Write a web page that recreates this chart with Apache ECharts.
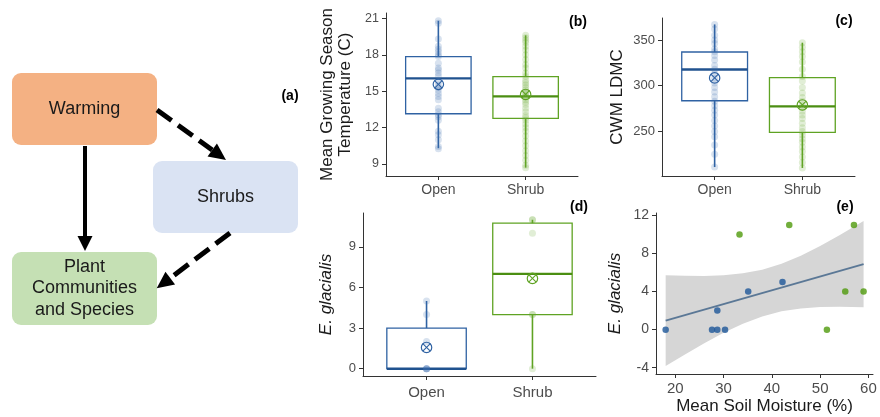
<!DOCTYPE html>
<html>
<head>
<meta charset="utf-8">
<script src="https://cdn.jsdelivr.net/npm/echarts@6/dist/echarts.min.js"></script>
<style>
html,body{margin:0;padding:0;background:#fff;}
#chart{width:880px;height:417px;}
</style>
</head>
<body>
<div id="chart"></div>
<script>
// ---------- DATA ----------
const catNames = ['Open', 'Shrub'];

// (b) Mean growing season temperature
const tempTicks = [9, 12, 15, 18, 21];
const tempOpenPts = [20.8, 20.6, 19.3, 18.7, 18.45, 18.25, 18.0, 17.85, 17.3, 16.9, 16.75, 16.5, 16.25, 15.8, 15.5, 15.3, 15.1, 14.8, 14.55, 14.3, 13.6, 13.3, 13.05, 12.9, 12.6, 11.7, 11.4, 11.0, 10.45, 10.25];
const tempShrubPts = [19.6, 19.4, 19.2, 19.0, 18.7, 18.4, 18.0, 17.6, 17.2, 16.9, 16.5, 16.2, 15.9, 15.7, 15.5, 15.3, 15.1, 14.9, 14.8, 14.6, 14.5, 14.3, 14.1, 13.9, 13.6, 13.3, 13.0, 12.8, 12.6, 12.3, 12.0, 11.7, 11.3, 10.9, 10.5, 10.1, 9.7, 9.3, 8.9, 8.7];
const tempOpenBox = [10.3, 13.14, 16.05, 17.84, 20.8];   // min, q1, median, q3, max
const tempShrubBox = [8.7, 12.75, 14.57, 16.2, 19.6];
const tempMeans = [15.56, 14.73];

// (c) CWM LDMC
const ldmcTicks = [250, 300, 350];
const ldmcOpenPts = [367, 362, 355, 350, 346, 340, 337, 333, 328, 322, 318, 313, 308, 303, 298, 293, 288, 283, 278, 273, 268, 262, 256, 250, 244, 235, 225, 211];
const ldmcShrubPts = [347, 342, 337, 332, 326, 318, 310, 305, 298, 292, 287, 283, 279, 276, 272, 268, 264, 259, 254, 250, 246, 242, 238, 233, 228, 222, 216, 210];
const ldmcOpenBox = [211, 283.5, 317.6, 336.8, 367];
const ldmcShrubBox = [210, 249, 277.3, 308.8, 347];
const ldmcMeans = [308.5, 278.9];

// (d) E. glacialis by habitat
const egTicks = [0, 3, 6, 9];
const egOpenPts = [0, 0, 0, 0, 2, 4, 5];
const egShrubPts = [0, 4, 4, 10, 11, 11];
const egOpenBox = [0, 0, 0, 3, 5];
const egShrubBox = [0, 4, 7, 10.75, 11];
const egMeans = [1.57, 6.67];

// (e) E. glacialis vs soil moisture
const moistTicks = [20, 30, 40, 50, 60];
const egTicksE = [-4, 0, 4, 8, 12];
const openMoist = [18.0, 27.6, 28.7, 30.3, 28.7, 35.1, 42.2];
const openEg = [0, 0, 0, 0, 2, 4, 5];
const shrubMoist = [33.3, 43.6, 57.0, 55.2, 59.0, 51.4];
const shrubEg = [10, 11, 11, 4, 4, 0];
const fitX = [18.0, 59.0];
const fitY = [0.95, 6.88];
const ribbonX = [18, 22, 26, 30, 34, 38, 42, 46, 50, 54, 59];
const ribbonLo = [-3.82, -2.60, -1.42, -0.33, 0.63, 1.39, 1.92, 2.23, 2.38, 2.41, 2.35];
const ribbonHi = [5.72, 5.66, 5.64, 5.71, 5.91, 6.29, 6.92, 7.77, 8.78, 9.91, 11.41];

// ---------- STYLE ----------
const BLUE = '#2f62a3', BLUE_MED = '#20528f', BLUE_PT = '#3a6db0';
const GREEN = '#5fa323', GREEN_MED = '#4b8e12', GREEN_PT = '#6aab30';
const AXIS = '#333333', TICKTXT = '#4d4d4d';
const FONT = 'Liberation Sans, Arial, sans-serif';

function catAxis(gi, fs, margin) {
  return {
    type: 'value', gridIndex: gi, min: 0.4, max: 2.6,
    axisLine: { show: true, onZero: false, lineStyle: { color: AXIS, width: 1 } },
    axisTick: { show: true, customValues: [1, 2], length: 4, lineStyle: { color: AXIS } },
    axisLabel: { customValues: [1, 2], formatter: v => catNames[Math.round(v) - 1], fontSize: fs, color: TICKTXT, fontFamily: FONT, margin: margin },
    splitLine: { show: false }
  };
}
function valAxis(gi, min, max, ticks, fs, name, gap, italic) {
  return {
    type: 'value', gridIndex: gi, min: min, max: max,
    axisLine: { show: true, onZero: false, lineStyle: { color: AXIS, width: 1 } },
    axisTick: { show: true, customValues: ticks, length: 4, lineStyle: { color: AXIS } },
    axisLabel: { customValues: ticks, fontSize: fs, color: TICKTXT, fontFamily: FONT, margin: 7 },
    splitLine: { show: false },
    name: name, nameLocation: 'middle', nameGap: gap,
    nameTextStyle: { fontSize: 17, color: '#1a1a1a', fontFamily: FONT, fontStyle: italic ? 'italic' : 'normal', lineHeight: 18 }
  };
}

function boxSeries(gi, openBox, shrubBox, hwUnits) {
  return {
    type: 'custom', xAxisIndex: gi, yAxisIndex: gi, z: 2,
    data: [[1].concat(openBox), [2].concat(shrubBox)],
    renderItem: function (params, api) {
      const x = api.value(0);
      const col = x === 1 ? BLUE : GREEN, med = x === 1 ? BLUE_MED : GREEN_MED;
      const lo = api.coord([x, api.value(1)]), q1 = api.coord([x, api.value(2)]);
      const md = api.coord([x, api.value(3)]), q3 = api.coord([x, api.value(4)]);
      const hi = api.coord([x, api.value(5)]);
      const hw = api.size([hwUnits, 0])[0] / 2;
      return {
        type: 'group', children: [
          { type: 'line', shape: { x1: lo[0], y1: lo[1], x2: q1[0], y2: q1[1] }, style: { stroke: col, lineWidth: 1.6 } },
          { type: 'line', shape: { x1: q3[0], y1: q3[1], x2: hi[0], y2: hi[1] }, style: { stroke: col, lineWidth: 1.6 } },
          { type: 'rect', shape: { x: q1[0] - hw, y: q3[1], width: 2 * hw, height: q1[1] - q3[1] }, style: { fill: 'none', stroke: col, lineWidth: 1.3 } },
          { type: 'line', shape: { x1: md[0] - hw, y1: md[1], x2: md[0] + hw, y2: md[1] }, style: { stroke: med, lineWidth: 2.4 } }
        ]
      };
    }
  };
}
function ptSeries(gi, pts, x, color, op) {
  return {
    type: 'scatter', xAxisIndex: gi, yAxisIndex: gi, z: 3,
    data: pts.map(v => [x, v]), symbol: 'circle', symbolSize: 7,
    itemStyle: { color: color, opacity: op }, silent: true
  };
}
function meanSeries(gi, means) {
  return {
    type: 'custom', xAxisIndex: gi, yAxisIndex: gi, z: 4,
    data: means.map((m, i) => [i + 1, m]),
    renderItem: function (params, api) {
      const x = api.value(0);
      const col = x === 1 ? BLUE : GREEN;
      const c = api.coord([x, api.value(1)]);
      const r = 5.2, d = r * 0.72;
      return {
        type: 'group', children: [
          { type: 'circle', shape: { cx: c[0], cy: c[1], r: r }, style: { fill: 'none', stroke: col, lineWidth: 1.2 } },
          { type: 'line', shape: { x1: c[0] - d, y1: c[1] - d, x2: c[0] + d, y2: c[1] + d }, style: { stroke: col, lineWidth: 1.1 } },
          { type: 'line', shape: { x1: c[0] - d, y1: c[1] + d, x2: c[0] + d, y2: c[1] - d }, style: { stroke: col, lineWidth: 1.1 } }
        ]
      };
    }
  };
}

// ---------- DIAGRAM (a) ----------
function arrowHead(x0, y0, x1, y1, len, hw) {
  const dx = x1 - x0, dy = y1 - y0, L = Math.hypot(dx, dy);
  const ux = dx / L, uy = dy / L, px = -uy, py = ux;
  const bx = x1 - ux * len, by = y1 - uy * len;
  return { base: [bx, by], pts: [[x1, y1], [bx + px * hw, by + py * hw], [bx - px * hw, by - py * hw]] };
}
const a1 = arrowHead(85, 146, 85, 251, 15, 7.5);
const a2 = arrowHead(157, 110, 226, 160, 17, 8);
const a3 = arrowHead(230, 233, 156.7, 288.3, 17, 8);

const graphics = [
  { type: 'rect', shape: { x: 12, y: 73, width: 145, height: 72, r: 9 }, style: { fill: '#F4B183' } },
  { type: 'rect', shape: { x: 153, y: 161, width: 145, height: 72, r: 9 }, style: { fill: '#DAE3F3' } },
  { type: 'rect', shape: { x: 12, y: 252, width: 145, height: 73, r: 9 }, style: { fill: '#C5E0B4' } },
  { type: 'text', x: 84.5, y: 109, style: { text: 'Warming', fontSize: 18, fontFamily: FONT, fill: '#1a1a1a', textAlign: 'center', textVerticalAlign: 'middle' } },
  { type: 'text', x: 225.5, y: 197, style: { text: 'Shrubs', fontSize: 18, fontFamily: FONT, fill: '#1a1a1a', textAlign: 'center', textVerticalAlign: 'middle' } },
  { type: 'text', x: 84.5, y: 288.5, style: { text: 'Plant\nCommunities\nand Species', fontSize: 18, lineHeight: 21.7, fontFamily: FONT, fill: '#1a1a1a', textAlign: 'center', textVerticalAlign: 'middle' } },
  { type: 'line', shape: { x1: 85, y1: 146, x2: a1.base[0], y2: a1.base[1] + 1 }, style: { stroke: '#000', lineWidth: 4 } },
  { type: 'polygon', shape: { points: a1.pts }, style: { fill: '#000' } },
  { type: 'line', shape: { x1: 157, y1: 110, x2: a2.base[0], y2: a2.base[1] }, style: { stroke: '#000', lineWidth: 5, lineDash: [18, 8] } },
  { type: 'polygon', shape: { points: a2.pts }, style: { fill: '#000' } },
  { type: 'line', shape: { x1: 230, y1: 233, x2: a3.base[0], y2: a3.base[1] }, style: { stroke: '#000', lineWidth: 5, lineDash: [18, 8] } },
  { type: 'polygon', shape: { points: a3.pts }, style: { fill: '#000' } },
  { type: 'text', x: 290, y: 96, style: { text: '(a)', fontSize: 14, fontWeight: 'bold', fontFamily: FONT, fill: '#000', textAlign: 'center', textVerticalAlign: 'middle' } },
  { type: 'text', x: 578, y: 22, style: { text: '(b)', fontSize: 14, fontWeight: 'bold', fontFamily: FONT, fill: '#000', textAlign: 'center', textVerticalAlign: 'middle' } },
  { type: 'text', x: 844, y: 21, style: { text: '(c)', fontSize: 14, fontWeight: 'bold', fontFamily: FONT, fill: '#000', textAlign: 'center', textVerticalAlign: 'middle' } },
  { type: 'text', x: 579, y: 207, style: { text: '(d)', fontSize: 14, fontWeight: 'bold', fontFamily: FONT, fill: '#000', textAlign: 'center', textVerticalAlign: 'middle' } },
  { type: 'text', x: 845, y: 207, style: { text: '(e)', fontSize: 14, fontWeight: 'bold', fontFamily: FONT, fill: '#000', textAlign: 'center', textVerticalAlign: 'middle' } }
];

// ---------- CHART ----------
const chart = echarts.init(document.getElementById('chart'), null, { renderer: 'canvas' });
const option = {
  animation: false,
  backgroundColor: '#ffffff',
  textStyle: { fontFamily: FONT },
  grid: [
    { left: 386, top: 13, width: 192, height: 163 },
    { left: 662, top: 18, width: 193, height: 158 },
    { left: 363, top: 213, width: 233, height: 163 },
    { left: 656, top: 213, width: 217, height: 161 }
  ],
  xAxis: [
    catAxis(0, 14, 7),
    catAxis(1, 14, 7),
    catAxis(2, 15, 9),
    valAxis(3, 16.0, 60.95, moistTicks, 15, 'Mean Soil Moisture (%)', 22, false)
  ],
  yAxis: [
    valAxis(0, 8.01, 21.44, tempTicks, 12.5, 'Mean Growing Season\nTemperature (C)', 32, false),
    valAxis(1, 201.2, 374, ldmcTicks, 13, 'CWM LDMC', 36, false),
    valAxis(2, -0.54, 11.5, egTicks, 13, 'E. glacialis', 28, true),
    valAxis(3, -4.66, 12.25, egTicksE, 14, 'E. glacialis', 32, true)
  ],
  graphic: graphics,
  series: [
    boxSeries(0, tempOpenBox, tempShrubBox, 0.75),
    ptSeries(0, tempOpenPts, 1, BLUE_PT, 0.2),
    ptSeries(0, tempShrubPts, 2, GREEN_PT, 0.2),
    meanSeries(0, tempMeans),

    boxSeries(1, ldmcOpenBox, ldmcShrubBox, 0.75),
    ptSeries(1, ldmcOpenPts, 1, BLUE_PT, 0.2),
    ptSeries(1, ldmcShrubPts, 2, GREEN_PT, 0.2),
    meanSeries(1, ldmcMeans),

    boxSeries(2, egOpenBox, egShrubBox, 0.75),
    ptSeries(2, egOpenPts, 1, BLUE_PT, 0.2),
    ptSeries(2, egShrubPts, 2, GREEN_PT, 0.2),
    meanSeries(2, egMeans),

    {
      type: 'custom', xAxisIndex: 3, yAxisIndex: 3, z: 1, silent: true,
      data: ribbonX.map((x, i) => [x, ribbonLo[i], ribbonHi[i]]),
      renderItem: function (params, api) {
        if (params.dataIndex !== 0) return null;
        const pts = [];
        for (let i = 0; i < ribbonX.length; i++) pts.push(api.coord([ribbonX[i], ribbonHi[i]]));
        for (let i = ribbonX.length - 1; i >= 0; i--) pts.push(api.coord([ribbonX[i], ribbonLo[i]]));
        return { type: 'polygon', shape: { points: pts }, style: { fill: '#d6d6d6' } };
      }
    },
    {
      type: 'scatter', xAxisIndex: 3, yAxisIndex: 3, z: 3, symbolSize: 6.5,
      data: openMoist.map((x, i) => [x, openEg[i]]), itemStyle: { color: '#1d5699' }
    },
    {
      type: 'scatter', xAxisIndex: 3, yAxisIndex: 3, z: 3, symbolSize: 6.5,
      data: shrubMoist.map((x, i) => [x, shrubEg[i]]), itemStyle: { color: '#4f9a0b' }
    },
    {
      type: 'line', xAxisIndex: 3, yAxisIndex: 3, z: 4, showSymbol: false, silent: true,
      data: fitX.map((x, i) => [x, fitY[i]]), lineStyle: { color: '#5b7896', width: 2 }
    }
  ]
};
chart.setOption(option);
</script>
</body>
</html>
